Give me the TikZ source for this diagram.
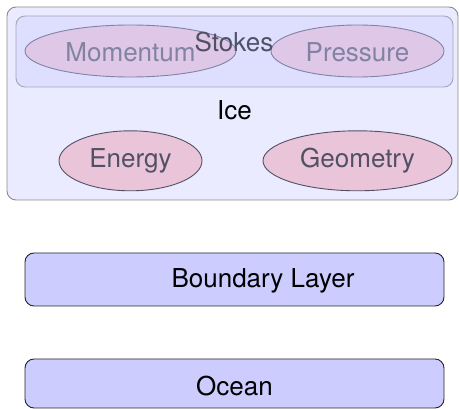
\documentclass[tikz,border=0pt]{standalone}
\usepackage{fontspec}
\setmainfont{TeX Gyre Heros}
\usetikzlibrary{shapes.geometric}
\begin{document}
\begin{tikzpicture}[x=1pt,y=-1pt,
  font=\fontsize{26}{30}\selectfont,
  blob/.style={ellipse,draw=black,line width=0.9pt,fill=pink,inner sep=0pt},
  groupbox/.style={rectangle,rounded corners=9pt,draw=black!45,line width=0.9pt,fill=blue!20,fill opacity=0.4,text opacity=1,inner sep=0pt},
  solidbox/.style={rectangle,rounded corners=9pt,draw=black!85,line width=0.9pt,fill=blue!20,inner sep=0pt}]
\useasboundingbox (0,0) rectangle (459,409);
% ellipses
\node[blob,minimum width=143pt,minimum height=60pt,text height=19pt,text depth=4.6pt] (energy) at (130.5,160.8) {Energy};
\node[blob,minimum width=189pt,minimum height=60pt,text height=19pt,text depth=4.6pt] (geometry) at (357.5,160.8) {Geometry};
\node[blob,minimum width=211pt,minimum height=52pt,text height=20.6pt,text depth=0pt] (momentum) at (130.5,51) {Momentum};
\node[blob,minimum width=173pt,minimum height=52pt,text height=20.6pt,text depth=0pt] (pressure) at (357.5,51) {Pressure};
% stokes group
\node[groupbox,minimum width=437pt,minimum height=71pt] (stokes) at (234.5,51.5) {};
\node[anchor=base] (stokeslabel) at (234,52) {Stokes};
% ice group
\node[groupbox,minimum width=451pt,minimum height=193pt] (ice) at (232.5,103.5) {};
\node[anchor=base] (icelabel) at (234.5,120) {Ice};
% boundary layer and ocean
\node[solidbox,minimum width=419pt,minimum height=53pt,text height=19pt,text depth=2pt] (bl) at (234.5,279.5) {\hspace*{57pt}Boundary Layer};
\node[solidbox,minimum width=419pt,minimum height=49pt,text height=25pt,text depth=0pt] (ocean) at (234.5,383.5) {Ocean};
\end{tikzpicture}
\end{document}
